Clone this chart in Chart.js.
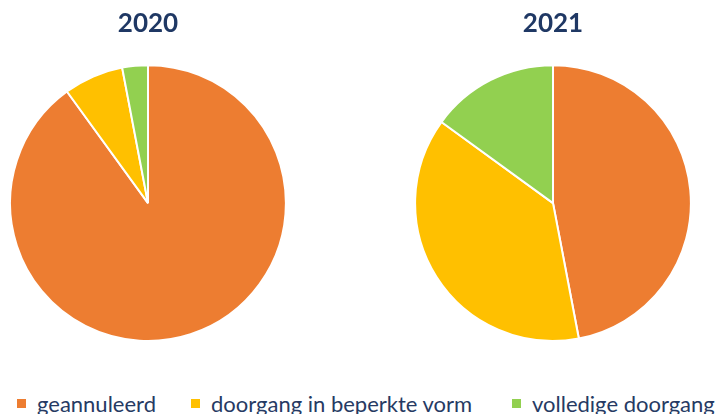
<!DOCTYPE html>
<html>
<head>
<meta charset="utf-8">
<script src="https://cdn.jsdelivr.net/npm/chart.js@4/dist/chart.umd.min.js"></script>
<style>
  body { margin: 0; background: #fff; }
  #wrap { position: relative; width: 718px; height: 414px; overflow: hidden; font-family: Lato, sans-serif; }
  .pie { position: absolute; top: 0; width: 280px; height: 342px; }
  #legend { position: absolute; left: 0; top: 390px; width: 718px; height: 24px; }
  .item { position: absolute; top: 0; display: flex; align-items: center; color: #263a63; font-size: 22px; white-space: nowrap; }
  .box { width: 9px; height: 9px; margin-right: 11px; }
</style>
</head>
<body>
<div id="wrap">
  <div class="pie" style="left:8px"><canvas id="pie2020"></canvas></div>
  <div class="pie" style="left:413px"><canvas id="pie2021"></canvas></div>
  <div id="legend"></div>
</div>
<script>
const categories = ["geannuleerd", "doorgang in beperkte vorm", "volledige doorgang"];
const years = ["2020", "2021"];
const values2020 = [90, 7, 3];
const values2021 = [47, 38, 15];
const colors = ["#ED7D31", "#FFC000", "#92D050"];
const legendX = [17, 191, 512];

function maakPie(id, titel, waarden) {
  new Chart(document.getElementById(id), {
    type: "pie",
    data: {
      labels: categories,
      datasets: [{
        data: waarden,
        backgroundColor: colors,
        borderColor: "#ffffff",
        borderWidth: 2,
      }],
    },
    options: {
      responsive: true,
      maintainAspectRatio: false,
      animation: false,
      layout: { padding: 0 },
      plugins: {
        legend: { display: false },
        tooltip: { enabled: false },
        title: {
          display: true,
          text: titel,
          color: "#1F3864",
          font: { family: "Lato", size: 26, weight: "bold" },
          padding: { top: 8, bottom: 25 },
        },
      },
    },
  });
}

maakPie("pie2020", years[0], values2020);
maakPie("pie2021", years[1], values2021);

// legenda onderaan, gedeeld door beide grafieken
const legend = document.getElementById("legend");
categories.forEach((cat, i) => {
  const item = document.createElement("div");
  item.className = "item";
  item.style.left = legendX[i] + "px";
  const box = document.createElement("span");
  box.className = "box";
  box.style.background = colors[i];
  const txt = document.createElement("span");
  txt.textContent = cat;
  item.appendChild(box);
  item.appendChild(txt);
  legend.appendChild(item);
});
</script>
</body>
</html>
